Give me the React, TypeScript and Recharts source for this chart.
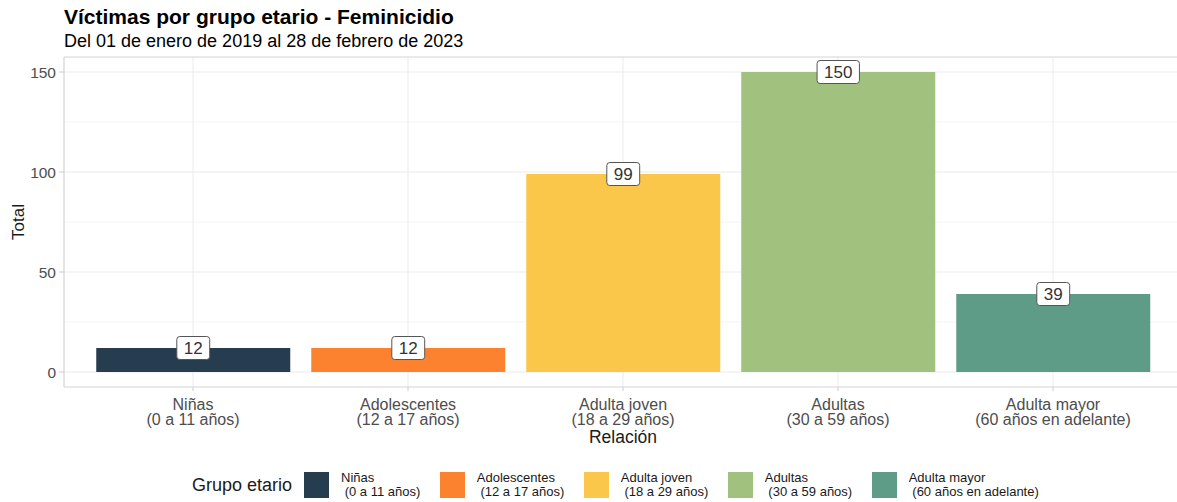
import React from "react";
import {
  BarChart,
  Bar,
  XAxis,
  YAxis,
  CartesianGrid,
  Cell,
  LabelList,
  Legend,
  ReferenceLine,
} from "recharts";

const categories = ["Niñas", "Adolescentes", "Adulta joven", "Adultas", "Adulta mayor"];
const ageRanges = [
  "(0 a 11 años)",
  "(12 a 17 años)",
  "(18 a 29 años)",
  "(30 a 59 años)",
  "(60 años en adelante)",
];
const totals = [12, 12, 99, 150, 39];
const barColors = ["#253D4E", "#FD8230", "#FBC74B", "#A1C17E", "#5F9C88"];
const yTicks = [0, 50, 100, 150];
const yMinorTicks = [25, 75, 125];
const yDomain = [-7.5, 157.5];

const FONT = '"Liberation Sans", Arial, sans-serif';
const BORDER = "#d4d4d4";

const data = categories.map((grupo, i) => ({
  grupo,
  rango: ageRanges[i],
  total: totals[i],
}));

const XTick = (props: any) => {
  const { x, y, payload } = props;
  const i = categories.indexOf(payload.value);
  return (
    <text x={x} y={y} textAnchor="middle" fill="#4d4d4d" fontSize={16} fontFamily={FONT}>
      <tspan x={x} dy={16.5}>{payload.value}</tspan>
      <tspan x={x} dy={15.5}>{ageRanges[i]}</tspan>
    </text>
  );
};

const YTitle = (props: any) => {
  const vb = props.viewBox;
  const cx = vb.x + 18;
  const cy = vb.y + vb.height / 2;
  return (
    <text
      x={cx}
      y={cy}
      transform={`rotate(-90 ${cx} ${cy})`}
      textAnchor="middle"
      dominantBaseline="central"
      fontSize={17}
      fill="#1a1a1a"
      fontFamily={FONT}
    >
      Total
    </text>
  );
};

const BoxLabel = (props: any) => {
  const { x, y, width, value } = props;
  const cx = x + width / 2;
  const w = String(value).length * 0.556 * 17 + 14;
  const h = 23;
  return (
    <g>
      <rect
        x={cx - w / 2}
        y={y - h / 2}
        width={w}
        height={h}
        rx={3}
        ry={3}
        fill="#ffffff"
        stroke="#555555"
        strokeWidth={1}
      />
      <text
        x={cx}
        y={y}
        textAnchor="middle"
        dominantBaseline="central"
        fontSize={17}
        fill="#333333"
        fontFamily={FONT}
      >
        {value}
      </text>
    </g>
  );
};

const LegendBox = () => (
  <div
    style={{
      position: "relative",
      height: 42,
      fontFamily: FONT,
      display: "flex",
      alignItems: "center",
      paddingLeft: 192,
    }}
  >
    <span style={{ fontSize: 18, color: "#1a1a1a", marginRight: 12 }}>Grupo etario</span>
    {categories.map((c, i) => (
      <div key={c} style={{ display: "flex", alignItems: "center", marginRight: 19.5 }}>
        <div style={{ width: 25, height: 26, background: barColors[i], marginRight: 12 }} />
        <div style={{ fontSize: 13, lineHeight: "14px", color: "#1a1a1a", whiteSpace: "pre" }}>
          <div>{c}</div>
          <div>{" " + ageRanges[i]}</div>
        </div>
      </div>
    ))}
  </div>
);

export default function App() {
  return (
    <div
      style={{
        position: "absolute",
        left: 0,
        top: 0,
        width: 1177,
        height: 502,
        overflow: "hidden",
        background: "#ffffff",
        fontFamily: FONT,
      }}
    >
      <div
        style={{
          position: "absolute",
          left: 64,
          top: 6,
          fontSize: 21,
          lineHeight: "21px",
          fontWeight: "bold",
          color: "#000",
          whiteSpace: "nowrap",
        }}
      >
        Víctimas por grupo etario - Feminicidio
      </div>
      <div
        style={{
          position: "absolute",
          left: 64,
          top: 32,
          fontSize: 18,
          lineHeight: "18px",
          color: "#000",
          whiteSpace: "nowrap",
        }}
      >
        Del 01 de enero de 2019 al 28 de febrero de 2023
      </div>
      <BarChart
        width={1190}
        height={502}
        data={data}
        margin={{ top: 57, right: 8, bottom: 13, left: 0 }}
        barCategoryGap="5%"
      >
        <CartesianGrid horizontalValues={yMinorTicks} vertical={false} stroke="#f4f4f4" />
        <CartesianGrid horizontalValues={yTicks} stroke="#ebebeb" />
        <ReferenceLine y={yDomain[1]} stroke={BORDER} ifOverflow="visible" />
        <XAxis
          dataKey="grupo"
          padding={{ left: 21.5, right: 21.5 }}
          height={60}
          tickSize={4}
          tickMargin={2}
          axisLine={{ stroke: BORDER }}
          tickLine={{ stroke: "#cccccc" }}
          tick={<XTick />}
          interval={0}
          label={{
            value: "Relación",
            position: "insideBottom",
            offset: 4,
            fontSize: 17.5,
            fill: "#1a1a1a",
            fontFamily: FONT,
          }}
        />
        <YAxis
          type="number"
          domain={yDomain}
          allowDataOverflow
          ticks={yTicks}
          width={64}
          tickSize={5}
          tickMargin={3}
          axisLine={{ stroke: BORDER }}
          tickLine={{ stroke: "#cccccc" }}
          tick={{ fill: "#4d4d4d", fontSize: 15.5, fontFamily: FONT }}
          label={{ content: <YTitle /> }}
        />
        <Legend
          verticalAlign="bottom"
          content={() => <LegendBox />}
          wrapperStyle={{ left: 0, top: 464, bottom: "auto", width: 1177, height: 42 }}
        />
        <Bar dataKey="total" isAnimationActive={false}>
          {data.map((d, i) => (
            <Cell key={d.grupo} fill={barColors[i]} />
          ))}
          <LabelList dataKey="total" content={<BoxLabel />} />
        </Bar>
      </BarChart>
    </div>
  );
}
